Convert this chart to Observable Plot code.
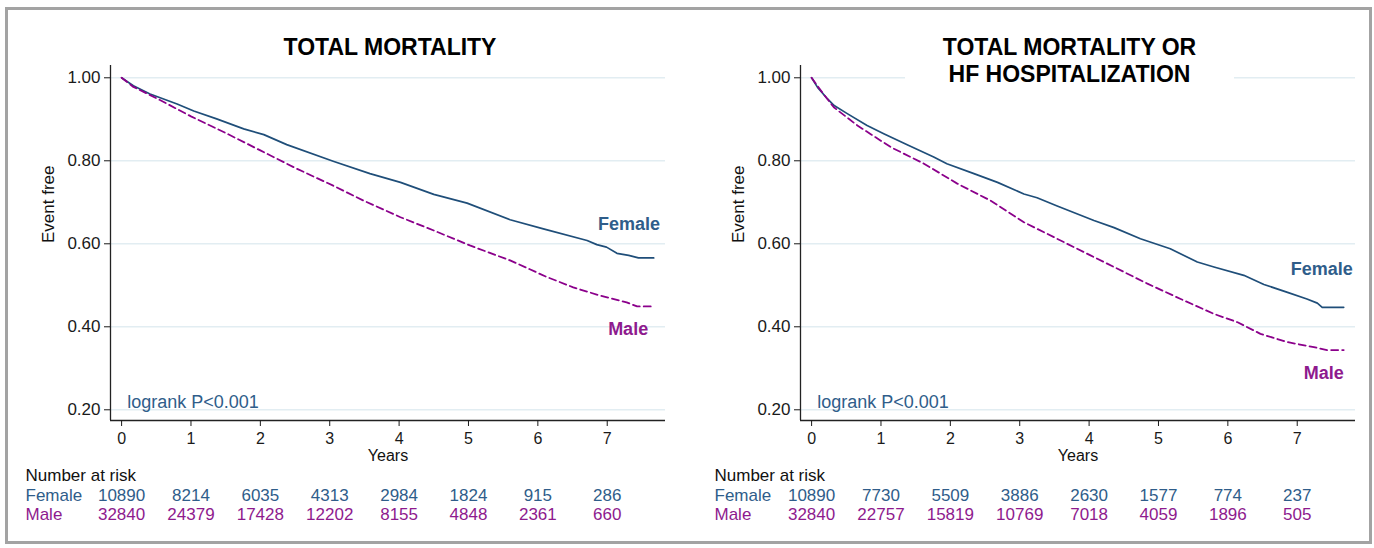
<!DOCTYPE html>
<html><head><meta charset="utf-8">
<script src="https://cdn.jsdelivr.net/npm/d3@7"></script>
<script src="https://cdn.jsdelivr.net/npm/@observablehq/plot@0.6"></script>
<style>
body{margin:0;background:#fff;font-family:"Liberation Sans",Arial,sans-serif;}
#wrap{position:relative;width:1374px;height:548px;overflow:hidden;background:#fff;}
#border{position:absolute;left:5px;top:7px;width:1367px;height:537px;border:3px solid #a3a3a3;box-sizing:border-box;}
.panel{position:absolute;top:0;}
.title{position:absolute;font-weight:bold;font-size:23px;text-align:center;color:#000;line-height:27px;}
</style></head><body>
<div id="wrap">
<div id="border"></div>
<div id="p1" class="panel" style="left:0px"></div>
<div id="p2" class="panel" style="left:687px"></div>
<div class="title" style="left:240px;width:300px;top:34px;">TOTAL MORTALITY</div>
<div class="title" style="left:905px;width:329px;top:34px;padding-bottom:6px;background:#fff;">TOTAL MORTALITY OR<br>HF HOSPITALIZATION</div>
</div>
<script>
// ---- data ----
const years = [0, 1, 2, 3, 4, 5, 6, 7];
const yTicks = [0.2, 0.4, 0.6, 0.8, 1.0];
const groups = ["Female", "Male"];

// Total mortality
const mortFemaleT = [0, 0.17, 0.41, 0.80, 1.04, 1.37, 1.76, 2.05, 2.38, 3.05, 3.58, 4.02, 4.50, 4.98, 5.60, 6.08, 6.71, 6.85, 6.99, 7.14, 7.31, 7.45, 7.67];
const mortFemaleS = [1.0, 0.981, 0.961, 0.937, 0.920, 0.901, 0.877, 0.863, 0.839, 0.799, 0.769, 0.748, 0.719, 0.698, 0.658, 0.636, 0.608, 0.598, 0.592, 0.577, 0.572, 0.566, 0.566];
const mortMaleT = [0, 0.17, 0.5, 1.0, 1.5, 2.0, 2.5, 3.05, 3.5, 4.02, 4.5, 5.02, 5.6, 6.13, 6.51, 6.9, 7.28, 7.43, 7.67];
const mortMaleS = [1.0, 0.978, 0.951, 0.907, 0.867, 0.825, 0.783, 0.740, 0.703, 0.664, 0.632, 0.596, 0.560, 0.520, 0.495, 0.475, 0.459, 0.449, 0.449];

// Total mortality or HF hospitalization
const hfFemaleT = [0, 0.086, 0.23, 0.325, 0.52, 0.80, 1.04, 1.37, 1.76, 1.95, 2.34, 2.68, 3.06, 3.25, 3.54, 4.07, 4.36, 4.74, 5.17, 5.56, 5.80, 6.23, 6.52, 6.86, 7.14, 7.29, 7.36, 7.67];
const hfFemaleS = [1.0, 0.977, 0.949, 0.933, 0.913, 0.885, 0.865, 0.839, 0.809, 0.793, 0.769, 0.748, 0.720, 0.711, 0.691, 0.656, 0.639, 0.612, 0.588, 0.556, 0.544, 0.524, 0.502, 0.483, 0.467, 0.457, 0.447, 0.447];
const hfMaleT = [0, 0.17, 0.32, 0.66, 1.14, 1.62, 2.10, 2.58, 3.06, 3.54, 4.02, 4.36, 4.84, 5.32, 5.80, 6.14, 6.47, 6.86, 7.24, 7.43, 7.67];
const hfMaleS = [1.0, 0.961, 0.929, 0.885, 0.833, 0.793, 0.745, 0.704, 0.652, 0.612, 0.572, 0.544, 0.504, 0.467, 0.431, 0.411, 0.383, 0.363, 0.351, 0.344, 0.344];

// Number at risk
const riskMortFemale = [10890, 8214, 6035, 4313, 2984, 1824, 915, 286];
const riskMortMale = [32840, 24379, 17428, 12202, 8155, 4848, 2361, 660];
const riskHfFemale = [10890, 7730, 5509, 3886, 2630, 1577, 774, 237];
const riskHfMale = [32840, 22757, 15819, 10769, 7018, 4059, 1896, 505];

// ---- drawing ----
const xDomain = [-0.16, 7.84];
const yDomain = [0.1742, 1.0296];
const femaleLine = "#1f4e79", maleLine = "#8b008b";
const femaleText = "#2f5d8a", maleText = "#8e1a8e";
const font = "'Liberation Sans', Arial, sans-serif";

function toRows(t, s) { return t.map((d, i) => ({t: d, s: s[i]})); }

function panel(cfg) {
  return Plot.plot({
    width: 687, height: 548,
    marginTop: 65, marginBottom: 128, marginLeft: cfg.ml, marginRight: 687 - cfg.ml - 555,
    x: {domain: xDomain},
    y: {domain: yDomain},
    style: {fontFamily: font, fontSize: "17px", color: "#1a1a1a", background: "transparent", overflow: "visible"},
    marks: [
      Plot.gridY(yTicks, {stroke: "#e2edf2", strokeOpacity: 1, strokeWidth: 1.5}),
      Plot.ruleX([xDomain[0]], {stroke: "#222", strokeWidth: 1.3}),
      Plot.ruleY([yDomain[0]], {stroke: "#222", strokeWidth: 1.3}),
      Plot.axisY(yTicks, {tickFormat: d3.format(".2f"), tickSize: 6, tickPadding: 4, label: null, fontSize: 17}),
      Plot.axisX(years, {tickSize: 6, tickPadding: 6, label: null, fontSize: 16}),
      Plot.text(["Event free"], {frameAnchor: "left", dx: -62, rotate: -90, fontSize: 17, fill: "#111"}),
      Plot.text(["Years"], {frameAnchor: "bottom", dy: 40, fontSize: 16, fill: "#111"}),
      Plot.line(toRows(cfg.fT, cfg.fS), {x: "t", y: "s", stroke: femaleLine, strokeWidth: 1.7}),
      Plot.line(toRows(cfg.mT, cfg.mS), {x: "t", y: "s", stroke: maleLine, strokeWidth: 1.8, strokeDasharray: "7,4"}),
      Plot.text([groups[0]], {x: cfg.fLab[0], y: cfg.fLab[1], textAnchor: "end", fontWeight: "bold", fontSize: 18, fill: femaleText}),
      Plot.text([groups[1]], {x: cfg.mLab[0], y: cfg.mLab[1], textAnchor: "end", fontWeight: "bold", fontSize: 18, fill: maleText}),
      Plot.text(["logrank P<0.001"], {x: 0.08, y: 0.219, textAnchor: "start", fontSize: 18, fill: femaleText}),
      Plot.text(["Number at risk"], {frameAnchor: "bottom-left", dx: cfg.tabDx, dy: 60, textAnchor: "start", fontSize: 17, fill: "#111"}),
      Plot.text([groups[0]], {frameAnchor: "bottom-left", dx: cfg.tabDx, dy: 80, textAnchor: "start", fontSize: 17, fill: femaleText}),
      Plot.text([groups[1]], {frameAnchor: "bottom-left", dx: cfg.tabDx, dy: 99, textAnchor: "start", fontSize: 17, fill: maleText}),
      Plot.text(years, {x: d => d, text: (d, i) => String(cfg.rF[i]), frameAnchor: "bottom", dy: 80, fontSize: 17, fill: femaleText}),
      Plot.text(years, {x: d => d, text: (d, i) => String(cfg.rM[i]), frameAnchor: "bottom", dy: 99, fontSize: 17, fill: maleText})
    ]
  });
}

document.getElementById("p1").append(panel({
  ml: 110, fT: mortFemaleT, fS: mortFemaleS, mT: mortMaleT, mS: mortMaleS,
  fLab: [7.76, 0.646], mLab: [7.59, 0.394], tabDx: -85,
  rF: riskMortFemale, rM: riskMortMale
}));
document.getElementById("p2").append(panel({
  ml: 113, fT: hfFemaleT, fS: hfFemaleS, mT: hfMaleT, mS: hfMaleS,
  fLab: [7.80, 0.538], mLab: [7.67, 0.288], tabDx: -86,
  rF: riskHfFemale, rM: riskHfMale
}));
</script>
</body></html>
